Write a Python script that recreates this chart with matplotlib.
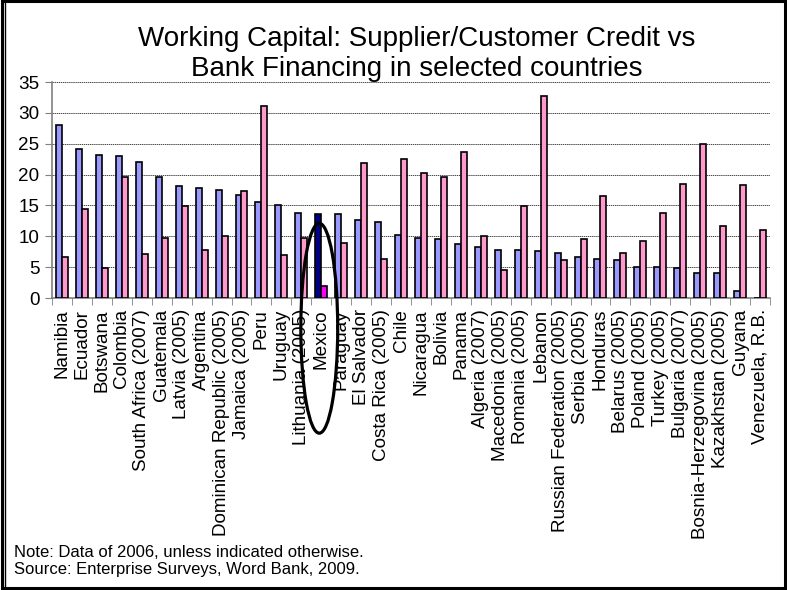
import matplotlib.pyplot as plt
from matplotlib.patches import Ellipse, Rectangle
from matplotlib.lines import Line2D
import numpy as np

plt.rcParams['font.family'] = ['Liberation Sans', 'DejaVu Sans']

countries = ['Namibia', 'Ecuador', 'Botswana', 'Colombia', 'South Africa (2007)',
             'Guatemala', 'Latvia (2005)', 'Argentina', 'Dominican Republic (2005)',
             'Jamaica (2005)', 'Peru', 'Uruguay', 'Lithuania (2005)', 'Mexico',
             'Paraguay', 'El Salvador', 'Costa Rica (2005)', 'Chile', 'Nicaragua',
             'Bolivia', 'Panama', 'Algeria (2007)', 'Macedonia (2005)', 'Romania (2005)',
             'Lebanon', 'Russian Federation (2005)', 'Serbia (2005)', 'Honduras',
             'Belarus (2005)', 'Poland (2005)', 'Turkey (2005)', 'Bulgaria (2007)',
             'Bosnia-Herzegovina (2005)', 'Kazakhstan (2005)', 'Guyana', 'Venezuela, R.B.']

# supplier/customer credit (blue) and bank financing (pink), % of working capital
supplier_credit = [28.0, 24.2, 23.2, 23.0, 22.1, 19.6, 18.2, 17.8, 17.5, 16.7, 15.6, 15.1,
                   13.7, 13.6, 13.6, 12.6, 12.3, 10.2, 9.8, 9.6, 8.8, 8.2, 7.8, 7.7,
                   7.6, 7.3, 6.6, 6.3, 6.2, 5.1, 5.1, 4.9, 4.1, 4.1, 1.2, 0.0]
bank_finance = [6.6, 14.4, 4.9, 19.6, 7.1, 9.8, 14.9, 7.8, 10.1, 17.3, 31.1, 7.0,
                9.8, 2.0, 8.9, 21.9, 6.3, 22.6, 20.2, 19.6, 23.6, 10.0, 4.5, 14.9,
                32.7, 6.2, 9.6, 16.6, 7.3, 9.3, 13.7, 18.5, 25.0, 11.6, 18.3, 11.1]
highlight = 'Mexico'

x = np.arange(len(countries))
blue_cols = ['#000080' if c == highlight else '#9999FF' for c in countries]
pink_cols = ['#FF00FF' if c == highlight else '#FF99CC' for c in countries]

fig = plt.figure(figsize=(7.87, 5.9), dpi=100)
ax = fig.add_axes([0.0661, 0.4949, 0.9123, 0.3661])

w = 0.3
ax.bar(x - w / 2, supplier_credit, w, color=blue_cols, edgecolor='black', linewidth=1.2, zorder=3)
ax.bar(x + w / 2, bank_finance, w, color=pink_cols, edgecolor='black', linewidth=1.2, zorder=3)

ax.set_xlim(-0.5, len(countries) - 0.5)
ax.set_ylim(0, 35)
ax.set_yticks(range(0, 36, 5))
ax.yaxis.grid(True, color='black', linestyle=(0, (2, 1)), linewidth=0.5, zorder=0)

ax.set_xticks(x)
ax.set_xticklabels(countries, rotation=90, fontsize=13.6)
ax.set_xticks(np.arange(-0.5, len(countries), 1), minor=True)
ax.tick_params(axis='x', which='major', length=0, pad=8)
ax.tick_params(axis='x', which='minor', length=5, color='#808080', direction='out')
ax.tick_params(axis='y', length=5, color='#808080', labelsize=13.6, pad=4)

for s in ['top', 'right']:
    ax.spines[s].set_visible(False)
for s in ['left', 'bottom']:
    ax.spines[s].set_color('#808080')
    ax.spines[s].set_linewidth(1.2)

# circle round the highlighted country
mi = countries.index(highlight)
ax.add_patch(Ellipse((mi - 0.1, -4.9), 1.85, 34, fill=False, edgecolor='black',
                     linewidth=2.3, clip_on=False, zorder=5))

fig.text(0.529, 0.908, 'Working Capital: Supplier/Customer Credit vs\nBank Financing in selected countries',
         ha='center', va='center', fontsize=20, linespacing=1.2)

fig.text(0.018, 0.049, 'Note: Data of 2006, unless indicated otherwise.\nSource: Enterprise Surveys, Word Bank, 2009.',
         ha='left', va='center', fontsize=12, linespacing=1.2)

# chart frame
fig.patches.append(Rectangle((0.002, 0.003), 0.995, 0.995, transform=fig.transFigure,
                             fill=False, edgecolor='black', linewidth=2.2))
fig.lines.append(Line2D([0.006, 0.006], [0.003, 0.998], transform=fig.transFigure,
                        color='black', linewidth=1))

fig.savefig('out.png', dpi=100)
